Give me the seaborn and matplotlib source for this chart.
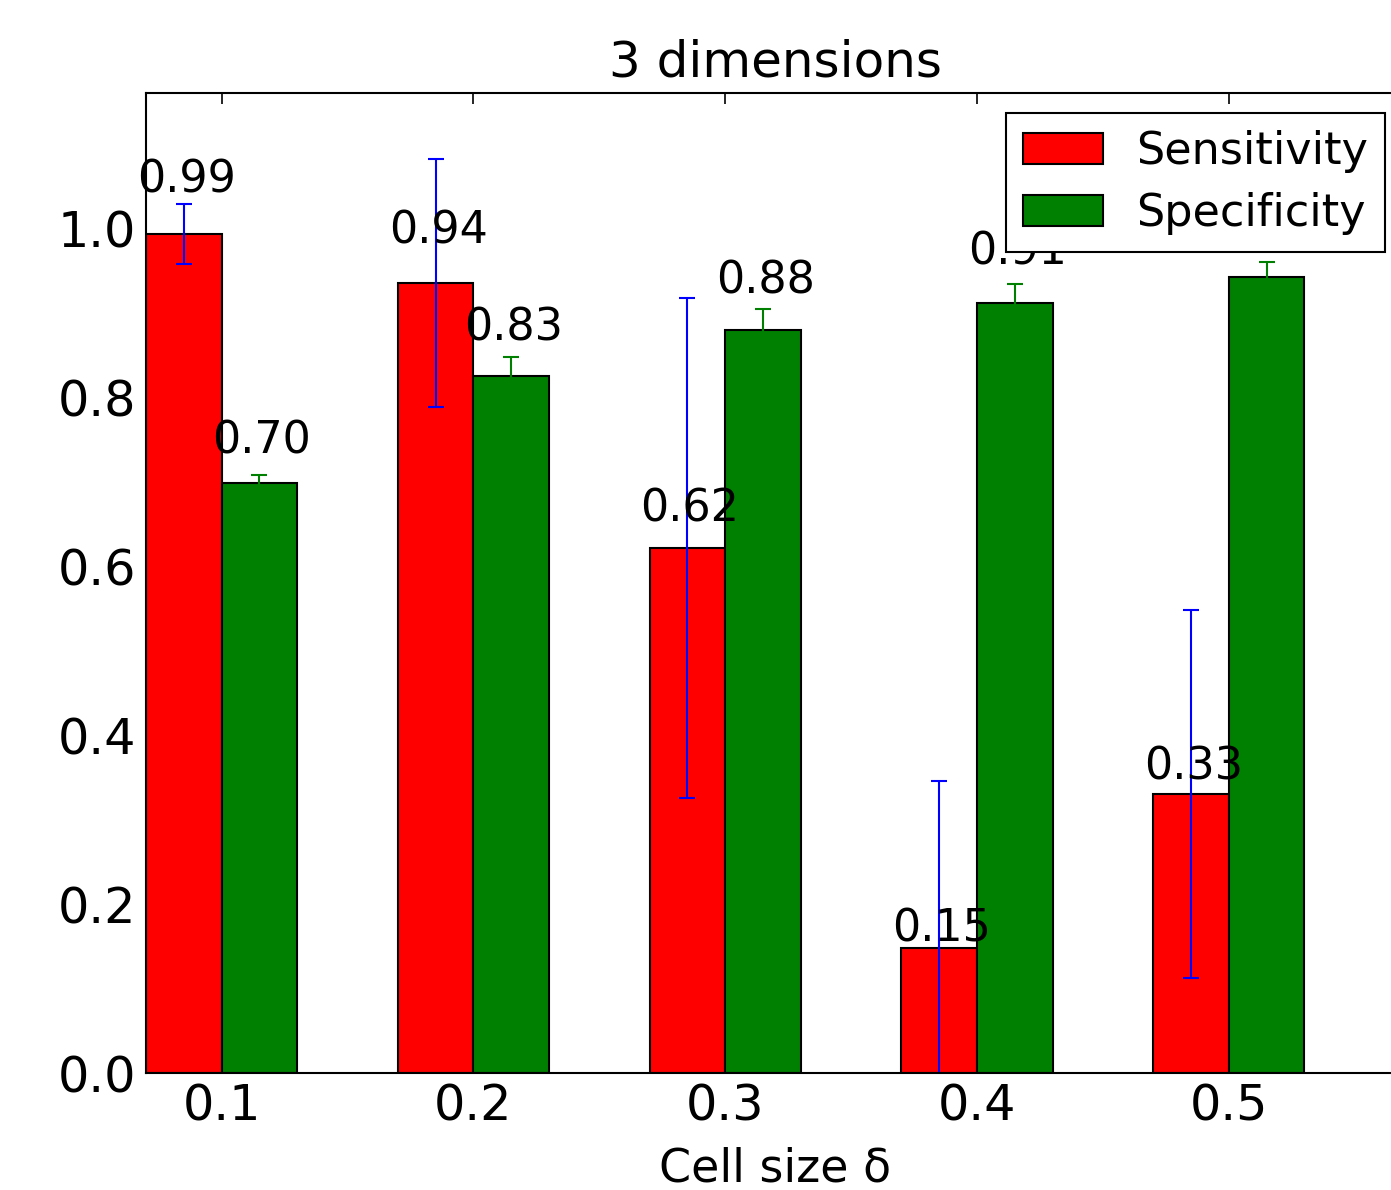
import seaborn as sns
import matplotlib.pyplot as plt
import pandas as pd

# Datos
cell_sizes = ["0.1", "0.2", "0.3", "0.4", "0.5"]
sensitivity = [0.994, 0.936, 0.622, 0.148, 0.331]
sensitivity_err = [0.036, 0.147, 0.296, 0.198, 0.218]
specificity = [0.699, 0.826, 0.880, 0.912, 0.943]
specificity_err = [0.010, 0.022, 0.025, 0.023, 0.018]

df = pd.DataFrame({
    "Cell size": cell_sizes * 2,
    "Valor": sensitivity + specificity,
    "Metrica": ["Sensitivity"] * 5 + ["Specificity"] * 5,
})

sns.set_style("white")
plt.rcParams["font.family"] = ["DejaVu Sans"]
plt.rcParams["text.color"] = "black"
plt.rcParams["xtick.color"] = "black"
plt.rcParams["ytick.color"] = "black"
plt.rcParams["axes.labelcolor"] = "black"

fig = plt.figure(figsize=(13.91, 11.90), dpi=100)
ax = fig.add_axes([0.105, 0.0983, 0.9051, 0.8235])

sns.barplot(data=df, x="Cell size", y="Valor", hue="Metrica",
            palette={"Sensitivity": "red", "Specificity": "green"},
            width=0.6, errorbar=None, edgecolor="black", linewidth=1.5,
            saturation=1, ax=ax)

# Barras de error y etiquetas
n = len(cell_sizes)
patches = [p for p in ax.patches if p.get_height() > 0][:2 * n]
errs = sensitivity_err + specificity_err
ecolors = ["blue"] * n + ["green"] * n
vals = sensitivity + specificity
for p, e, c, v in zip(patches, errs, ecolors, vals):
    xc = p.get_x() + p.get_width() / 2
    ax.errorbar(xc, v, yerr=e, fmt="none", ecolor=c, elinewidth=1.5,
                capsize=6, capthick=1.5, zorder=2.5)
    ax.text(xc + 0.01, 1.05 * v, "%.2f" % v, ha="center", va="baseline",
            fontsize=32, color="black", zorder=3)

ax.set_xlim(-0.3, 4.7)
ax.set_ylim(0, 1.161)
ax.set_yticks([0.0, 0.2, 0.4, 0.6, 0.8, 1.0])
ax.set_yticklabels(["0.0", "0.2", "0.4", "0.6", "0.8", "1.0"])
ax.tick_params(axis="both", direction="in", labelsize=35.5, length=8,
               width=1.2, top=True, right=False, pad=7)
for s in ax.spines.values():
    s.set_linewidth(1.5)
    s.set_color("black")
ax.spines["right"].set_visible(False)

ax.set_title("3 dimensions", fontsize=36, pad=12)
ax.set_xlabel("Cell size δ", fontsize=33, labelpad=11)
ax.set_ylabel("")

leg = ax.legend(loc="upper right", fontsize=32, fancybox=False,
                framealpha=1, edgecolor="black", borderaxespad=0.45,
                borderpad=0.38, labelspacing=0.43,
                handlelength=1.8, handletextpad=0.75)
leg.get_frame().set_linewidth(1.5)
for h in leg.legend_handles:
    h.set_edgecolor("black")
    h.set_linewidth(1.5)

fig.savefig("out.png", dpi=100)
